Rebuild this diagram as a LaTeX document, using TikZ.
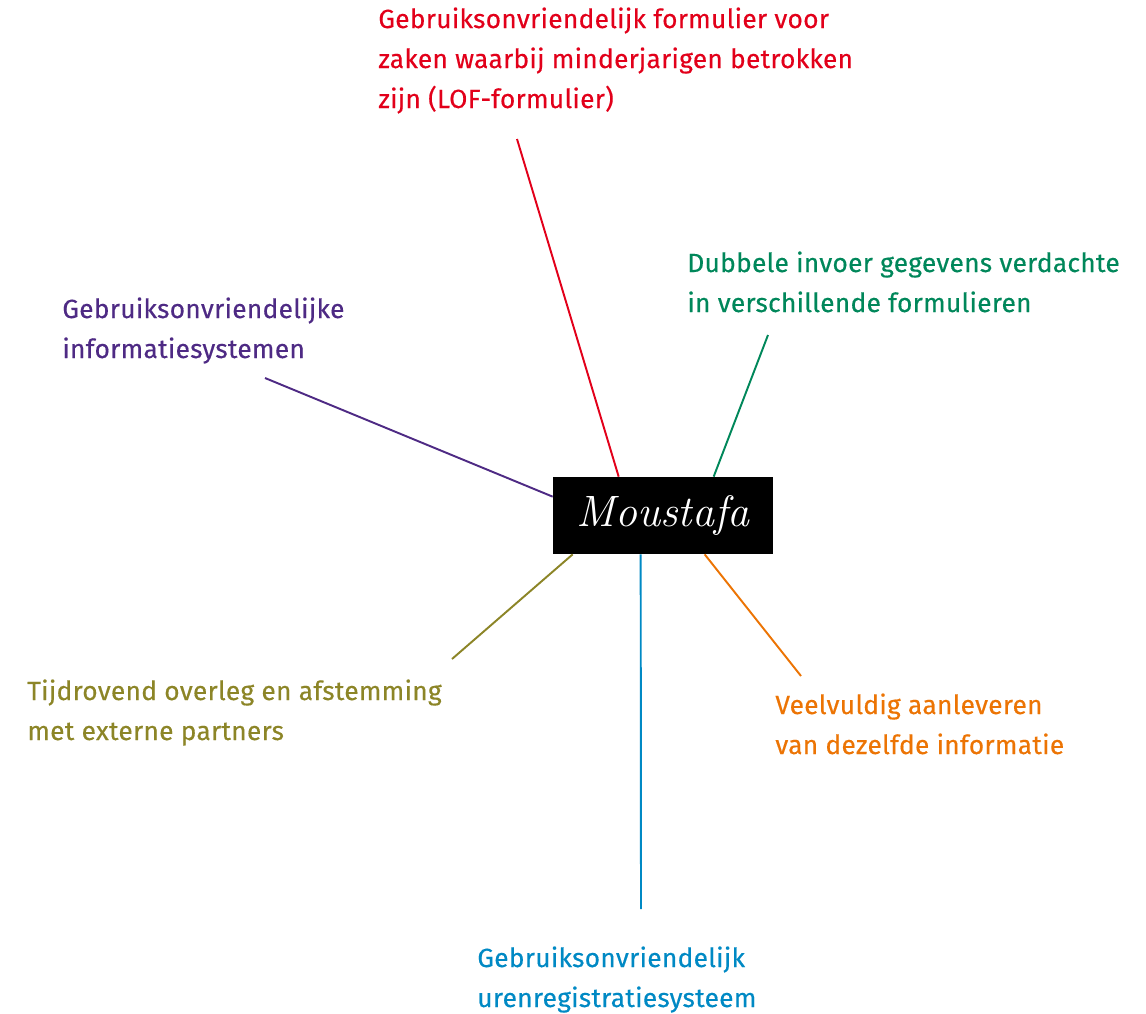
\documentclass[tikz,border=0pt]{standalone}
\usepackage{fontspec}
\newfontfamily\mpsans[FakeBold=0.35,LetterSpace=1]{Fira Sans}
\usetikzlibrary{calc,positioning}
\definecolor{mpRed}{HTML}{E2001A}
\definecolor{mpGreen}{HTML}{00875A}
\definecolor{mpPurple}{HTML}{4E2A84}
\definecolor{mpOlive}{HTML}{8C8527}
\definecolor{mpBlue}{HTML}{0089C4}
\definecolor{mpOrange}{HTML}{EC7404}
\tikzset{
  mp box/.style={
    fill=black, text=white, inner sep=0pt,
    minimum width=4.4cm, minimum height=1.54cm,
    font=\itshape\fontsize{25}{30}\selectfont
  },
  mp spoke/.style={line width=1.1pt},
  mp label/.style={
    anchor=base west, align=left, inner sep=0pt,
    font=\mpsans\fontsize{15}{22.76}\selectfont
  }
}

\begin{document}
\begin{tikzpicture}[x=.02cm,y=-.02cm]
  \useasboundingbox (0,0) rectangle (1146,1014);
  \node[mp box] (moustafa) at (663,515.5) {Moustafa};

  % labels sit on the baseline of their last line
  \node[mp label, text=mpRed] (formulier) at (378,108)
    {Gebruiksonvriendelijk formulier voor\\zaken waarbij minderjarigen betrokken\\zijn (LOF-formulier)};
  \node[mp label, text=mpGreen] (invoer) at (687,312)
    {Dubbele invoer gegevens verdachte\\in verschillende formulieren};
  \node[mp label, text=mpPurple] (systemen) at (62,358)
    {Gebruiksonvriendelijke\\informatiesystemen};
  \node[mp label, text=mpOlive] (overleg) at (27,740)
    {Tijdrovend overleg en afstemming\\met externe partners};
  \node[mp label, text=mpOrange] (aanleveren) at (775,754)
    {Veelvuldig aanleveren\\van dezelfde informatie};
  \node[mp label, text=mpBlue] (uren) at (477,1007)
    {Gebruiksonvriendelijk\\urenregistratiesysteem};

  \coordinate (formulier end) at (517,139);
  \coordinate (invoer end) at (768,335);
  \coordinate (systemen end) at (265,378);
  \coordinate (overleg end) at (452,659);
  \coordinate (aanleveren end) at (801,676);
  \coordinate (uren end) at (641,909);

  \draw[mp spoke, mpRed] (formulier end) -- ($(moustafa.north west)+(66,0)$);
  \draw[mp spoke, mpGreen] (invoer end) -- ($(moustafa.north west)+(161,0)$);
  \draw[mp spoke, mpPurple] (systemen end) -- ($(moustafa.north west)+(0,20)$);
  \draw[mp spoke, mpOlive] (overleg end) -- ($(moustafa.south west)+(20,0)$);
  \draw[mp spoke, mpBlue] (uren end) -- ($(moustafa.south west)+(88,0)$);
  \draw[mp spoke, mpOrange] (aanleveren end) -- ($(moustafa.south west)+(152,0)$);
\end{tikzpicture}
\end{document}
